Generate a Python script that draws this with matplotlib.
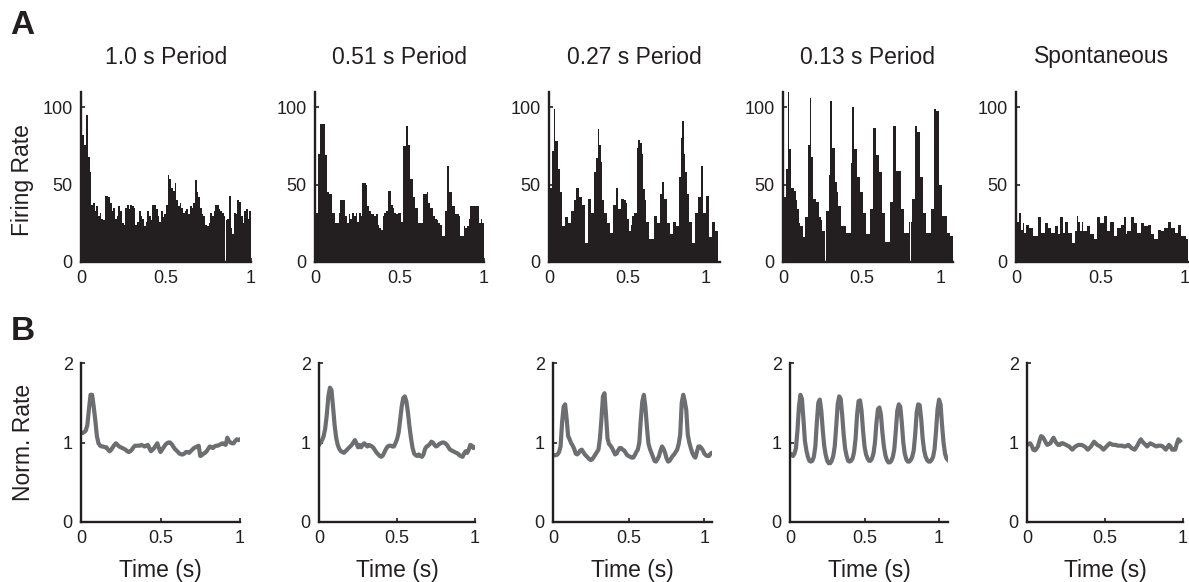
import numpy as np
import matplotlib
matplotlib.use("Agg")
import matplotlib.pyplot as plt

plt.rcParams['font.family'] = ['Liberation Sans', 'DejaVu Sans']

# ---------------- data ----------------
titles = ["1.0 s Period", "0.51 s Period", "0.27 s Period", "0.13 s Period", "Spontaneous"]
bin_width = 0.01
line_step = 0.01

psth_1 = [82, 82, 76, 95, 68, 58, 37, 38, 33, 36,
          30, 32, 28, 27, 43, 43, 42, 38, 33, 35,
          28, 30, 36, 33, 25, 24, 35, 37, 34, 37,
          36, 35, 24, 26, 33, 30, 28, 23, 26, 33,
          30, 27, 37, 37, 34, 30, 26, 33, 29, 31,
          37, 56, 54, 48, 46, 51, 40, 36, 38, 35,
          32, 33, 34, 31, 36, 35, 38, 53, 45, 42,
          35, 31, 30, 24, 23, 25, 32, 30, 33, 37,
          37, 34, 33, 32, 30, 27, 28, 43, 22, 18,
          32, 31, 40, 39, 30, 25, 33, 34, 28, 33]
psth_2 = [32, 32, 70, 89, 89, 89, 69, 45, 44, 44,
          32, 32, 25, 25, 32, 40, 40, 40, 30, 25,
          31, 28, 32, 30, 32, 26, 32, 30, 51, 51,
          50, 36, 33, 31, 31, 30, 31, 24, 22, 21,
          30, 32, 33, 46, 46, 37, 35, 32, 31, 32,
          32, 26, 75, 75, 88, 76, 54, 54, 42, 35,
          35, 25, 25, 25, 44, 44, 45, 38, 35, 35,
          30, 28, 27, 25, 24, 17, 17, 33, 62, 45,
          45, 36, 36, 31, 31, 30, 17, 17, 23, 22,
          23, 28, 36, 36, 36, 36, 36, 25, 28, 25]
psth_3 = [48, 48, 72, 99, 78, 78, 60, 45, 23, 23,
          29, 29, 25, 25, 33, 33, 40, 48, 48, 42,
          42, 37, 37, 12, 12, 41, 41, 32, 32, 58,
          67, 86, 76, 65, 40, 32, 32, 25, 25, 19,
          19, 37, 37, 48, 34, 34, 41, 41, 40, 38,
          28, 20, 24, 30, 32, 32, 74, 79, 77, 70,
          47, 40, 26, 26, 15, 15, 15, 30, 30, 25,
          25, 44, 52, 41, 41, 25, 25, 18, 18, 26,
          26, 23, 23, 55, 80, 91, 70, 58, 44, 26,
          26, 12, 12, 32, 32, 42, 42, 62, 32, 32,
          43, 43, 16, 16, 26, 26, 20, 20]
psth_4 = [42, 42, 60, 113, 73, 48, 48, 46, 40, 34,
          25, 23, 23, 16, 29, 29, 76, 106, 68, 41,
          41, 39, 39, 29, 27, 20, 20, 33, 33, 56,
          104, 74, 74, 52, 45, 36, 36, 23, 23, 23,
          19, 19, 19, 64, 100, 73, 73, 55, 55, 45,
          45, 32, 32, 18, 18, 34, 34, 87, 87, 69,
          69, 58, 58, 32, 32, 13, 13, 13, 39, 39,
          88, 88, 59, 59, 59, 34, 34, 19, 19, 19,
          26, 26, 41, 41, 88, 84, 84, 55, 55, 32,
          32, 19, 19, 19, 34, 34, 99, 98, 98, 50,
          50, 30, 30, 30, 19, 19, 17, 17]
psth_5 = [26, 26, 32, 21, 25, 19, 24, 24, 22, 22,
          17, 17, 17, 29, 29, 19, 19, 25, 25, 22,
          22, 19, 19, 23, 23, 18, 29, 29, 19, 26,
          26, 19, 19, 12, 12, 20, 30, 26, 20, 26,
          20, 20, 23, 23, 18, 18, 15, 15, 29, 29,
          25, 25, 30, 30, 20, 20, 26, 26, 17, 17,
          22, 22, 24, 24, 29, 18, 20, 20, 29, 29,
          25, 25, 19, 19, 25, 25, 23, 23, 24, 24,
          18, 18, 15, 15, 21, 21, 20, 20, 22, 22,
          26, 26, 22, 22, 19, 19, 24, 24, 17, 17,
          17, 15]

norm_1 = [1.12, 1.12, 1.13, 1.15, 1.22, 1.42, 1.60, 1.60, 1.45, 1.28,
          1.08, 0.99, 0.96, 0.95, 0.95, 0.94, 0.94, 0.91, 0.89, 0.91,
          0.94, 0.97, 0.99, 0.97, 0.95, 0.94, 0.93, 0.92, 0.91, 0.89,
          0.88, 0.89, 0.91, 0.94, 0.96, 0.96, 0.96, 0.96, 0.97, 0.96,
          0.95, 0.96, 0.97, 0.93, 0.89, 0.91, 0.93, 0.96, 0.99, 0.93,
          0.88, 0.91, 0.94, 0.97, 0.99, 1.00, 1.00, 0.98, 0.95, 0.92,
          0.90, 0.88, 0.86, 0.85, 0.85, 0.86, 0.88, 0.88, 0.87, 0.89,
          0.91, 0.93, 0.94, 0.95, 0.96, 0.83, 0.84, 0.86, 0.87, 0.89,
          0.92, 0.95, 0.94, 0.93, 0.95, 0.96, 0.96, 0.97, 0.98, 0.99,
          0.98, 0.97, 1.06, 1.02, 1.00, 0.99, 0.99, 1.02, 1.04, 1.03, 1.04]
norm_2 = [0.97, 1.00, 1.03, 1.08, 1.18, 1.35, 1.58, 1.69, 1.66, 1.45,
          1.22, 1.06, 0.97, 0.92, 0.89, 0.88, 0.87, 0.89, 0.91, 0.93,
          0.95, 0.97, 1.00, 1.03, 0.99, 0.94, 0.97, 0.94, 0.97, 0.99,
          0.97, 0.95, 0.97, 0.96, 0.95, 0.93, 0.90, 0.87, 0.85, 0.83,
          0.82, 0.84, 0.88, 0.92, 0.95, 0.96, 0.96, 0.95, 0.95, 0.99,
          1.04, 1.12, 1.28, 1.45, 1.56, 1.58, 1.52, 1.38, 1.20, 1.05,
          0.93, 0.86, 0.84, 0.83, 0.85, 0.83, 0.82, 0.85, 0.92, 0.95,
          0.96, 0.98, 1.01, 1.00, 0.97, 0.95, 0.96, 0.98, 0.99, 1.00,
          1.00, 0.99, 0.97, 0.94, 0.91, 0.90, 0.89, 0.88, 0.87, 0.86,
          0.84, 0.83, 0.82, 0.86, 0.89, 0.87, 0.91, 0.97, 0.96, 0.93, 0.94]
norm_3 = [0.84, 0.84, 0.84, 0.85, 0.88, 0.95, 1.25, 1.45, 1.48, 1.30,
          1.08, 1.04, 0.99, 0.96, 0.92, 0.86, 0.85, 0.87, 0.90, 0.91,
          0.88, 0.85, 0.83, 0.81, 0.79, 0.78, 0.79, 0.82, 0.85, 0.88,
          0.91, 1.05, 1.30, 1.58, 1.62, 1.35, 1.05, 0.98, 0.96, 0.93,
          0.89, 0.85, 0.86, 0.90, 0.93, 0.93, 0.91, 0.90, 0.87, 0.84,
          0.83, 0.82, 0.81, 0.81, 0.84, 0.88, 0.91, 1.00, 1.29, 1.52,
          1.60, 1.45, 1.20, 0.99, 0.92, 0.87, 0.82, 0.77, 0.76, 0.79,
          0.83, 0.90, 0.95, 0.92, 0.87, 0.80, 0.76, 0.77, 0.80, 0.83,
          0.85, 0.88, 0.91, 0.98, 1.10, 1.50, 1.60, 1.52, 1.41, 1.10,
          1.00, 0.93, 0.87, 0.83, 0.81, 0.88, 0.95, 0.95, 0.93, 0.90,
          0.86, 0.84, 0.83, 0.83, 0.86, 0.87]
norm_4 = [0.86, 0.85, 0.83, 0.86, 0.93, 1.15, 1.45, 1.60, 1.55, 1.30,
          1.02, 0.90, 0.82, 0.77, 0.76, 0.77, 0.82, 0.95, 1.25, 1.50,
          1.54, 1.40, 1.15, 0.95, 0.84, 0.77, 0.74, 0.74, 0.77, 0.83,
          0.95, 1.20, 1.48, 1.58, 1.55, 1.35, 1.10, 0.92, 0.83, 0.77,
          0.76, 0.77, 0.80, 0.88, 1.05, 1.35, 1.52, 1.53, 1.40, 1.15,
          0.95, 0.85, 0.80, 0.77, 0.77, 0.80, 0.86, 1.00, 1.25, 1.42,
          1.44, 1.35, 1.12, 0.95, 0.84, 0.78, 0.75, 0.75, 0.77, 0.82,
          0.92, 1.15, 1.40, 1.48, 1.45, 1.25, 1.00, 0.86, 0.79, 0.76,
          0.76, 0.78, 0.82, 0.90, 1.10, 1.38, 1.48, 1.47, 1.30, 1.05,
          0.90, 0.82, 0.78, 0.76, 0.76, 0.78, 0.82, 0.92, 1.15, 1.42,
          1.54, 1.48, 1.22, 1.00, 0.86, 0.80, 0.78]
norm_5 = [0.97, 0.98, 0.99, 0.96, 0.91, 0.90, 0.92, 0.95, 1.02, 1.08,
          1.07, 1.04, 1.00, 0.97, 0.98, 0.99, 1.03, 1.06, 1.02, 0.99,
          0.97, 0.97, 0.99, 0.99, 0.98, 0.97, 0.96, 0.95, 0.93, 0.91,
          0.93, 0.95, 0.96, 0.97, 0.97, 0.97, 0.96, 0.95, 0.93, 0.91,
          0.93, 0.95, 0.98, 1.01, 0.99, 0.97, 0.96, 0.95, 0.93, 0.91,
          0.93, 0.95, 0.97, 0.99, 0.98, 0.97, 0.97, 0.97, 0.96, 0.96,
          0.96, 0.96, 0.95, 0.95, 0.96, 0.97, 0.95, 0.93, 0.92, 0.91,
          0.94, 0.97, 1.01, 1.04, 1.01, 0.99, 0.97, 0.95, 0.97, 0.99,
          0.98, 0.97, 0.96, 0.95, 0.96, 0.96, 0.96, 0.95, 0.93, 0.91,
          0.94, 0.97, 0.95, 0.91, 0.91, 0.91, 0.98, 1.04, 1.02]

psths = [psth_1, psth_2, psth_3, psth_4, psth_5]
norms = [norm_1, norm_2, norm_3, norm_4, norm_5]

top_xmax = [1.0, 1.0, 1.09, 1.08, 1.02]
bot_xmax = [1.0, 1.0, 1.05, 1.06, 1.0]
x_ticks = [0, 0.5, 1]
x_ticklabels = ["0", "0.5", "1"]
top_yticks = [0, 50, 100]
bot_yticks = [0, 1, 2]

# ---------------- layout ----------------
W, H = 1189, 582
fig = plt.figure(figsize=(W / 100, H / 100), dpi=100)

top_left = [81, 315, 549, 783, 1016]
top_right = [251, 484, 720, 953, 1188]
top_y0, top_y1 = 262, 92
bot_left = [81, 319, 553, 790, 1027]
bot_right = [240, 475, 712, 948, 1183]
bot_y0, bot_y1 = 522, 363

ink = '#231f20'
gray = '#6d6e71'
tick_fs = 13
label_fs = 16.5


def style(ax):
    for s in ['top', 'right']:
        ax.spines[s].set_visible(False)
    for s in ['left', 'bottom']:
        ax.spines[s].set_linewidth(1.7)
        ax.spines[s].set_color(ink)
    ax.tick_params(direction='in', length=3, width=1.2, colors=ink,
                   labelsize=tick_fs, pad=6)


for i in range(5):
    # top: PSTH
    ax = fig.add_axes([top_left[i] / W, 1 - top_y0 / H,
                       (top_right[i] - top_left[i]) / W, (top_y0 - top_y1) / H])
    vals = np.array(psths[i], dtype=float)
    t = np.arange(len(vals)) * bin_width
    ax.bar(t, vals, width=bin_width, align='edge', color=ink, linewidth=0)
    ax.set_xlim(0, top_xmax[i])
    ax.set_ylim(0, 110)
    ax.set_xticks(x_ticks)
    ax.set_xticklabels(x_ticklabels)
    ax.set_yticks(top_yticks)
    style(ax)
    fig.text((top_left[i] + top_right[i]) / 2 / W, 1 - 57 / H, titles[i],
             ha='center', va='center', fontsize=label_fs, color=ink)

    # bottom: normalized rate
    ax2 = fig.add_axes([bot_left[i] / W, 1 - bot_y0 / H,
                        (bot_right[i] - bot_left[i]) / W, (bot_y0 - bot_y1) / H])
    nv = np.array(norms[i], dtype=float)
    tl = np.arange(len(nv)) * line_step
    ax2.plot(tl, nv, color=gray, linewidth=3.0, solid_joinstyle='round')
    ax2.set_xlim(0, bot_xmax[i])
    ax2.set_ylim(0, 2)
    ax2.set_xticks(x_ticks)
    ax2.set_xticklabels(x_ticklabels)
    ax2.set_yticks(bot_yticks)
    style(ax2)
    fig.text((bot_left[i] + bot_right[i]) / 2 / W, 1 - 571 / H, "Time (s)",
             ha='center', va='center', fontsize=label_fs, color=ink)

fig.text(23 / W, 1 - 180 / H, "Firing Rate", rotation=90, ha='center',
         va='center', fontsize=label_fs, color=ink)
fig.text(23 / W, 1 - 442 / H, "Norm. Rate", rotation=90, ha='center',
         va='center', fontsize=label_fs, color=ink)
fig.text(10 / W, 1 - 26 / H, "A", ha='left', va='center', fontsize=24,
         fontweight='bold', color=ink)
fig.text(11 / W, 1 - 331 / H, "B", ha='left', va='center', fontsize=24,
         fontweight='bold', color=ink)

fig.savefig("out.png", dpi=100)
